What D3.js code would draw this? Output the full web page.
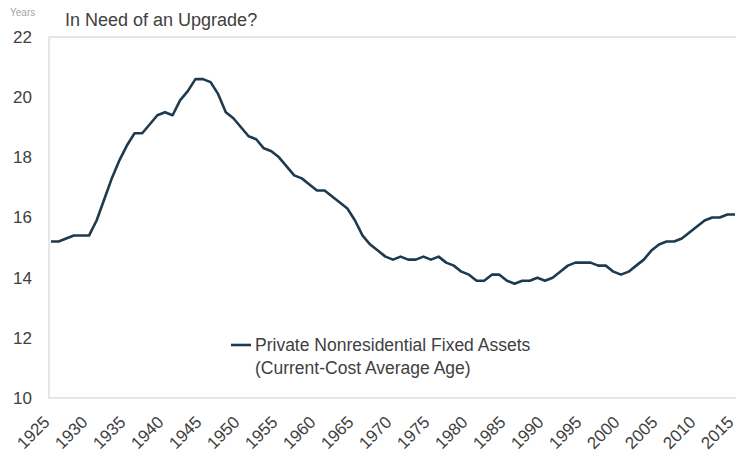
<!DOCTYPE html>
<html>
<head>
<meta charset="utf-8">
<script src="https://cdn.jsdelivr.net/npm/d3@7"></script>
<style>
  body { margin: 0; background: #fff; }
  text { font-family: "Liberation Sans", Arial, sans-serif; }
</style>
</head>
<body>
<script>
// data //////////////////////////////
var years = d3.range(1925, 2016);
var avgAge = [
  15.2, 15.2, 15.3, 15.4, 15.4, 15.4, 15.9, 16.6, 17.3, 17.9,
  18.4, 18.8, 18.8, 19.1, 19.4, 19.5, 19.4, 19.9, 20.2, 20.6,
  20.6, 20.5, 20.1, 19.5, 19.3, 19.0, 18.7, 18.6, 18.3, 18.2,
  18.0, 17.7, 17.4, 17.3, 17.1, 16.9, 16.9, 16.7, 16.5, 16.3,
  15.9, 15.4, 15.1, 14.9, 14.7, 14.6, 14.7, 14.6, 14.6, 14.7,
  14.6, 14.7, 14.5, 14.4, 14.2, 14.1, 13.9, 13.9, 14.1, 14.1,
  13.9, 13.8, 13.9, 13.9, 14.0, 13.9, 14.0, 14.2, 14.4, 14.5,
  14.5, 14.5, 14.4, 14.4, 14.2, 14.1, 14.2, 14.4, 14.6, 14.9,
  15.1, 15.2, 15.2, 15.3, 15.5, 15.7, 15.9, 16.0, 16.0, 16.1,
  16.1
];
var yTicks = [10, 12, 14, 16, 18, 20, 22];
var xTicks = d3.range(1925, 2016, 5);

var seriesName = ["Private Nonresidential Fixed Assets", "(Current-Cost Average Age)"];
var title = "In Need of an Upgrade?";

// svg setup //////////////////////////////
var width = 736, height = 455;
var plot = {left: 49, right: 737, top: 37, bottom: 398};

var svg = d3.select("body")
  .append("svg")
    .attr("width", width)
    .attr("height", height);

var xScale = d3.scaleLinear()
  .domain([1925, 2015])
  .range([51, 735]);

var yScale = d3.scaleLinear()
  .domain([10, 22])
  .range([plot.bottom, plot.top]);

// plot border
svg.append("rect")
  .attr("x", plot.left)
  .attr("y", plot.top)
  .attr("width", plot.right - plot.left)
  .attr("height", plot.bottom - plot.top)
  .attr("fill", "none")
  .attr("stroke", "#d9d9d9")
  .attr("stroke-width", 1.3);

// y axis
var yAxis = d3.axisLeft(yScale).tickValues(yTicks).tickSize(0).tickPadding(0);
var yG = svg.append("g")
  .attr("transform", "translate(32,0)")
  .call(yAxis);
yG.select(".domain").remove();
yG.selectAll("text")
  .attr("font-size", "17px")
  .attr("fill", "#404040")
  .attr("font-family", "Liberation Sans, Arial, sans-serif");

// x axis
var xAxis = d3.axisBottom(xScale).tickValues(xTicks).tickSize(0).tickFormat(d3.format("d"));
var xG = svg.append("g")
  .attr("transform", "translate(0," + plot.bottom + ")")
  .call(xAxis);
xG.select(".domain").remove();
xG.selectAll("text")
  .attr("font-size", "17px")
  .attr("fill", "#404040")
  .attr("font-family", "Liberation Sans, Arial, sans-serif")
  .attr("text-anchor", "end")
  .attr("x", 0)
  .attr("y", 0)
  .attr("dy", "0.35em")
  .attr("transform", "translate(-5,21) rotate(-45)");

// line
var line = d3.line()
  .x(function(d, i){ return xScale(years[i]); })
  .y(function(d){ return yScale(d); });

svg.append("path")
  .datum(avgAge)
  .attr("d", line)
  .attr("fill", "none")
  .attr("stroke", "#1d3a4e")
  .attr("stroke-width", 2.6)
  .attr("stroke-linejoin", "round");

// titles
svg.append("text")
  .attr("x", 10)
  .attr("y", 16)
  .attr("font-size", "10px")
  .attr("fill", "#a6a6a6")
  .text("Years");

svg.append("text")
  .attr("x", 65)
  .attr("y", 26)
  .attr("font-size", "18px")
  .attr("fill", "#404040")
  .text(title);

// legend
svg.append("line")
  .attr("x1", 231).attr("x2", 251)
  .attr("y1", 345).attr("y2", 345)
  .attr("stroke", "#1d3a4e")
  .attr("stroke-width", 2.6);

svg.selectAll(".legendText")
  .data(seriesName)
  .enter()
  .append("text")
    .attr("class", "legendText")
    .attr("x", 255)
    .attr("y", function(d, i){ return 351 + i * 23; })
    .attr("font-size", "17.5px")
    .attr("fill", "#404040")
    .text(function(d){ return d; });
</script>
</body>
</html>
